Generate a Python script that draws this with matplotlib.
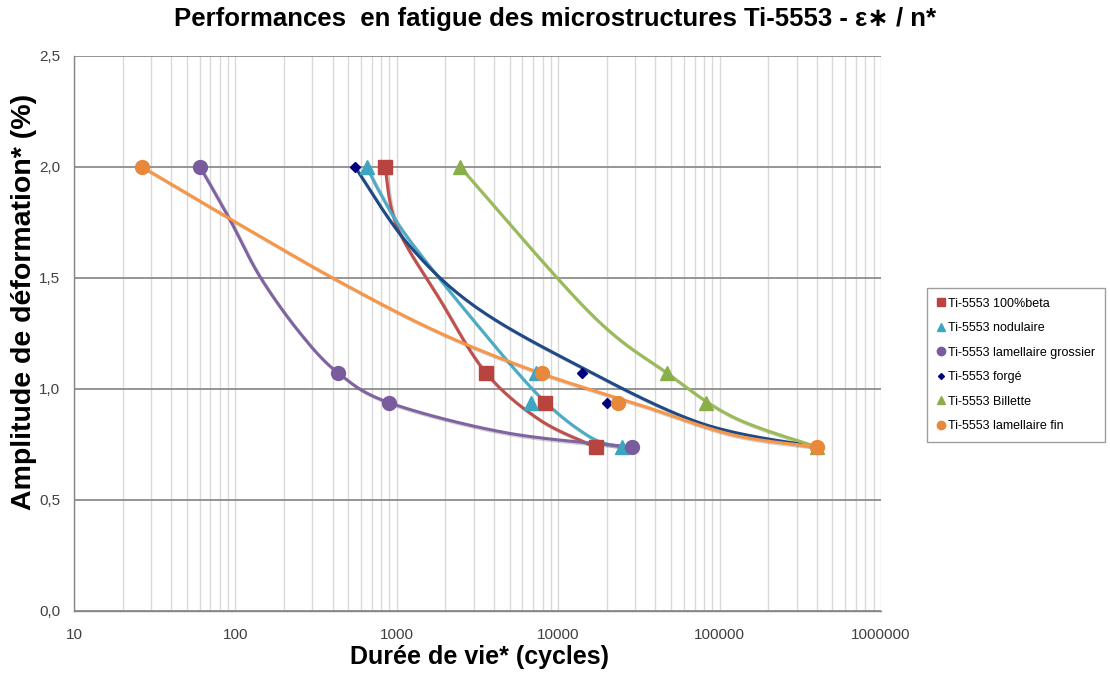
import numpy as np
import matplotlib
matplotlib.use("Agg")
import matplotlib.pyplot as plt
import matplotlib.patheffects as pe
from matplotlib.ticker import FixedLocator, FuncFormatter, LogLocator, NullFormatter

plt.rcParams['font.family'] = ['Liberation Sans', 'DejaVu Sans']

# points de mesure (marqueurs)
niveaux = [2.0, 1.07, 0.935, 0.74]
n_beta = [845, 3570, 8280, 17140]
n_nodulaire = [653, 7280, 6780, 24840]
n_grossier = [60, 433, 896, 28600]
n_forge = [551, 14000, 20000, 401000]
n_billette = [2465, 47200, 82400, 401000]
n_fin = [26.4, 7950, 23500, 401000]

# courbes de tendance (quelques points)
c_beta_n = [845, 1003, 1853, 3570, 7710, 17140]
c_beta_e = [2.0, 1.730, 1.401, 1.072, 0.860, 0.739]
c_nod_n = [653, 787, 1157, 2967, 7710, 15740, 24840]
c_nod_e = [2.0, 1.883, 1.685, 1.311, 0.964, 0.784, 0.739]
c_gro_n = [60.3, 92.6, 142, 251, 433, 907, 4820, 28600]
c_gro_e = [2.0, 1.761, 1.505, 1.252, 1.072, 0.937, 0.802, 0.739]
c_for_n = [551, 1157, 2967, 12360, 75700, 401000]
c_for_e = [2.0, 1.658, 1.378, 1.117, 0.847, 0.739]
c_bil_n = [2465, 15740, 47200, 121000, 401000]
c_bil_e = [2.0, 1.342, 1.072, 0.874, 0.739]
c_fin_n = [26.4, 92.6, 445, 1853, 7710, 32100, 121000, 401000]
c_fin_e = [2.0, 1.766, 1.482, 1.252, 1.072, 0.928, 0.793, 0.739]


def lisse(xs, ys, n=40):
    # spline de Catmull-Rom en log(x), comme le lissage Excel
    P = np.column_stack([np.log10(xs), ys])
    t = np.linspace(0, 1, n)[:, None]
    morceaux = []
    for i in range(len(P) - 1):
        p0 = P[i - 1] if i > 0 else P[i]
        p1, p2 = P[i], P[i + 1]
        p3 = P[i + 2] if i + 2 < len(P) else P[i + 1]
        seg = 0.5 * (2 * p1 + (p2 - p0) * t + (2 * p0 - 5 * p1 + 4 * p2 - p3) * t ** 2
                     + (-p0 + 3 * p1 - 3 * p2 + p3) * t ** 3)
        morceaux.append(seg)
    pts = np.vstack(morceaux)
    return 10 ** pts[:, 0], pts[:, 1]


series = [
    ("Ti-5553 100%beta", n_beta, c_beta_n, c_beta_e, "s", 10, "#B8433F", "#C0504D"),
    ("Ti-5553 nodulaire", n_nodulaire, c_nod_n, c_nod_e, "^", 10, "#3DA5C0", "#4BACC6"),
    ("Ti-5553 lamellaire grossier", n_grossier, c_gro_n, c_gro_e, "o", 10, "#7A5C9E", "#8064A2"),
    ("Ti-5553 forgé", n_forge, c_for_n, c_for_e, "D", 5, "#00007F", "#1F4A86"),
    ("Ti-5553 Billette", n_billette, c_bil_n, c_bil_e, "^", 10, "#8AAE4A", "#9BBB59"),
    ("Ti-5553 lamellaire fin", n_fin, c_fin_n, c_fin_e, "o", 10, "#E8883A", "#F79646"),
]

fig = plt.figure(figsize=(11.1, 6.74), dpi=100)
ax = fig.add_axes([0.0667, 0.0935, 0.727, 0.8235])

ombre = [pe.SimpleLineShadow(offset=(1.2, -1.2), alpha=0.18), pe.Normal()]
for nom, xs, cx, cy, m, ms, cm, cl in series:
    lx, ly = lisse(cx, cy)
    ax.plot(lx, ly, color=cl, lw=2.2, zorder=3, path_effects=ombre)
for nom, xs, cx, cy, m, ms, cm, cl in series:
    ax.plot(xs, niveaux, linestyle="none", marker=m, markersize=ms, color=cm,
            markeredgecolor=cm, label=nom, zorder=4)

ax.set_xscale("log")
ax.set_xlim(10, 1000000)
ax.set_ylim(0, 2.5)
ax.yaxis.set_major_locator(FixedLocator([0, 0.5, 1.0, 1.5, 2.0, 2.5]))
ax.yaxis.set_major_formatter(FuncFormatter(lambda v, p: f"{v:.1f}".replace(".", ",")))
ax.xaxis.set_major_locator(LogLocator(base=10, numticks=10))
ax.xaxis.set_minor_locator(LogLocator(base=10, subs=np.arange(2, 10), numticks=20))
ax.xaxis.set_major_formatter(FuncFormatter(lambda v, p: f"{int(round(v))}"))
ax.xaxis.set_minor_formatter(NullFormatter())

ax.grid(True, axis="x", which="both", color="#D9D9D9", lw=1.0, zorder=0)
ax.grid(True, axis="y", which="major", color="#8C8C8C", lw=1.3, zorder=0)
ax.set_axisbelow(True)
for s in ["top", "right"]:
    ax.spines[s].set_visible(False)
for s in ["left", "bottom"]:
    ax.spines[s].set_color("#868686")
    ax.spines[s].set_linewidth(1.0)
ax.tick_params(axis="both", which="both", length=0, labelsize=11, colors="#404040")
ax.tick_params(axis="x", pad=12)
ax.tick_params(axis="y", pad=10)

fig.text(479 / 1110, 1 - 657 / 674, "Durée de vie* (cycles)", ha="center", va="center",
         fontsize=18, fontweight="bold")
fig.text(24 / 1110, 1 - 302 / 674, "Amplitude de déformation* (%)", rotation=90,
         ha="center", va="center", fontsize=20.5, fontweight="bold")
fig.text(0.5, 0.972, "Performances  en fatigue des microstructures Ti-5553 - ε∗ / n*",
         ha="center", va="center", fontsize=18.5, fontweight="bold")

leg = ax.legend(loc="upper left", bbox_to_anchor=(0.835, 0.573), bbox_transform=fig.transFigure,
                fontsize=9, markerscale=0.6, handlelength=0.6, handletextpad=0.3,
                labelspacing=1.0, borderpad=0.8, borderaxespad=0, frameon=True, fancybox=False)
leg.get_frame().set_edgecolor("#868686")
leg.get_frame().set_linewidth(1.0)

fig.savefig("out.png", dpi=100)
